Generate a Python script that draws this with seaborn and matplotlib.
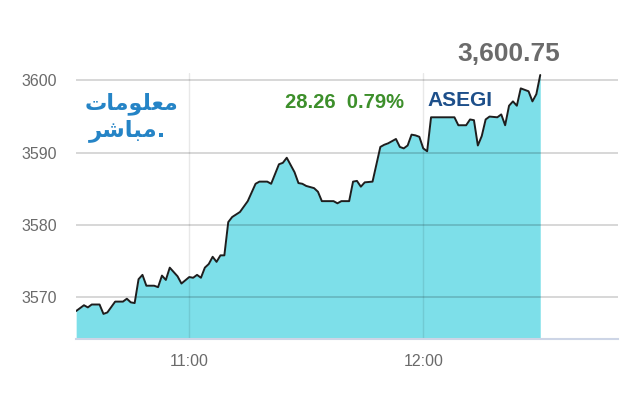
import matplotlib
matplotlib.use("Agg")
import matplotlib.pyplot as plt
import matplotlib.dates as mdates
import seaborn as sns
import pandas as pd

times = ["10:31", "10:33", "10:34", "10:35", "10:37", "10:38", "10:39", "10:41", "10:43", "10:44",
         "10:45", "10:46", "10:47", "10:48", "10:49", "10:51", "10:52", "10:53", "10:54", "10:55",
         "10:57", "10:58", "11:00", "11:01", "11:02", "11:03", "11:04", "11:05", "11:06", "11:07",
         "11:08", "11:09", "11:10", "11:11", "11:13", "11:15", "11:17", "11:18", "11:20", "11:21",
         "11:23", "11:24", "11:25", "11:26", "11:27", "11:28", "11:29", "11:30", "11:32", "11:33",
         "11:34", "11:37", "11:38", "11:39", "11:41", "11:42", "11:43", "11:44", "11:45", "11:47",
         "11:49", "11:50", "11:51", "11:52", "11:53", "11:54", "11:55", "11:56", "11:57", "11:58",
         "11:59", "12:00", "12:01", "12:02", "12:04", "12:06", "12:08", "12:09", "12:11", "12:12",
         "12:13", "12:14", "12:15", "12:16", "12:17", "12:19", "12:20", "12:21", "12:22", "12:23",
         "12:24", "12:25", "12:27", "12:28", "12:29", "12:30"]
values = [3568.1, 3568.9, 3568.6, 3569.0, 3569.0, 3567.7, 3567.9, 3569.4, 3569.4, 3569.8,
          3569.3, 3569.2, 3572.5, 3573.1, 3571.6, 3571.6, 3571.4, 3573.0, 3572.4, 3574.1,
          3572.9, 3571.9, 3572.8, 3572.7, 3573.1, 3572.7, 3574.1, 3574.6, 3575.6, 3574.9,
          3575.8, 3575.8, 3580.4, 3581.1, 3581.8, 3583.3, 3585.7, 3586.0, 3586.0, 3585.7,
          3588.4, 3588.6, 3589.3, 3588.3, 3587.3, 3585.8, 3585.7, 3585.4, 3585.1, 3584.6,
          3583.3, 3583.3, 3583.0, 3583.3, 3583.3, 3586.0, 3586.1, 3585.3, 3585.9, 3586.0,
          3590.8, 3591.1, 3591.3, 3591.6, 3591.9, 3590.8, 3590.6, 3591.0, 3592.5, 3592.4,
          3592.2, 3590.6, 3590.2, 3594.9, 3594.9, 3594.9, 3594.9, 3593.8, 3593.8, 3594.6,
          3594.5, 3591.0, 3592.3, 3594.6, 3595.0, 3594.9, 3595.3, 3593.8, 3596.5, 3597.1,
          3596.5, 3598.9, 3598.5, 3597.1, 3598.1, 3600.75]

y_ticks = [3570, 3580, 3590, 3600]
x_ticks = ["11:00", "12:00"]
x_end = "12:50"
last_value_label = "3,600.75"
change_label = "28.26  0.79%"
index_name = "ASEGI"

day = "2020-01-01 "
df = pd.DataFrame({"time": pd.to_datetime([day + t for t in times]), "value": values})

sns.set_style("white")
plt.rcParams["font.family"] = ["Liberation Sans Narrow", "Liberation Sans", "DejaVu Sans"]

fig = plt.figure(figsize=(6.4, 4.0), dpi=100)
ax = fig.add_axes([0.119, 0.152, 0.847, 0.665])

ymin = 3564.2
ax.fill_between(df["time"], df["value"], ymin, color="#7ddfe9", linewidth=0, zorder=1)
sns.lineplot(data=df, x="time", y="value", ax=ax, color="#1e1e1e", linewidth=1.4, zorder=3)

ax.set_ylim(ymin, 3601.0)
ax.set_xlim(df["time"].iloc[0], pd.to_datetime(day + x_end))

ax.set_yticks(y_ticks)
ax.set_yticklabels([str(v) for v in y_ticks])
xt = pd.to_datetime([day + t for t in x_ticks])
ax.set_xticks(xt)
ax.xaxis.set_major_formatter(mdates.DateFormatter("%H:%M"))

ax.set_axisbelow(False)
ax.grid(False)
for v in y_ticks:
    ax.axhline(v, color="black", alpha=0.17, linewidth=1.3, zorder=2)
for t in xt:
    ax.axvline(t, color="black", alpha=0.09, linewidth=1.0, zorder=2)

for s in ["left", "right", "top"]:
    ax.spines[s].set_visible(False)
ax.spines["bottom"].set_color("#cdd5e6")
ax.spines["bottom"].set_linewidth(1.5)

ax.tick_params(axis="both", length=0, labelsize=11.5, colors="#6a6a6a")
ax.tick_params(axis="y", pad=14)
ax.tick_params(axis="x", pad=11)
ax.set_xlabel("")
ax.set_ylabel("")

fig.text(0.795, 0.866, last_value_label, fontsize=19, fontweight="bold", color="#6b6b6b",
         family=["Liberation Sans", "DejaVu Sans"], ha="center", va="center")
fig.text(0.539, 0.744, change_label, fontsize=14.5, fontweight="bold", color="#3d8f2b",
         family=["Liberation Sans", "DejaVu Sans"], ha="center", va="center")
fig.text(0.719, 0.749, index_name, fontsize=15, fontweight="bold", color="#1d4f8a",
         family=["Liberation Sans", "DejaVu Sans"], ha="center", va="center")

# logo text (Arabic, in presentation forms, visual order)
logo_line1 = "\uFE95\uFE8E\uFEE3\uFEEE\uFEE0\uFECC\uFEE3"
logo_line2 = "\uFEAE\uFEB7\uFE8E\uFE92\uFEE3."
fig.text(0.205, 0.742, logo_line1, fontsize=16, fontweight="bold", color="#2584c6",
         family=["DejaVu Sans"], ha="center", va="center")
fig.text(0.199, 0.673, logo_line2, fontsize=16.5, fontweight="bold", color="#2584c6",
         family=["DejaVu Sans"], ha="center", va="center")

fig.savefig("out.png", dpi=100)
